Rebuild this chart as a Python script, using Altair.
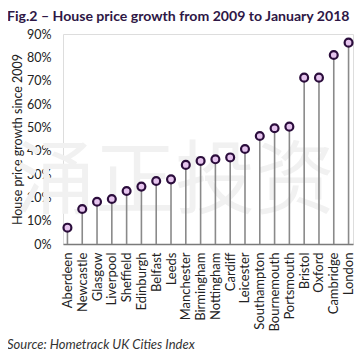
import altair as alt
import pandas as pd

cities = ["Aberdeen", "Newcastle", "Glasgow", "Liverpool", "Sheffield", "Edinburgh",
          "Belfast", "Leeds", "Manchester", "Birmingham", "Nottingham", "Cardiff",
          "Leicester", "Southampton", "Bournemouth", "Portsmouth", "Bristol", "Oxford",
          "Cambridge", "London"]
growth = [7.0, 15.0, 18.1, 19.3, 22.7, 24.6, 27.0, 27.7, 33.9, 35.6, 36.3, 37.1,
          40.7, 46.3, 49.6, 50.3, 71.3, 71.3, 81.0, 86.3]
y_ticks = [0, 10, 20, 30, 40, 50, 60, 70, 80, 90]
title_text = ["Fig.2 \u2013 House price growth from 2009 to January 2018"]
source_text = ["Source: Hometrack UK Cities Index"]
watermark_text = ["\u6d8c\u6b63\u6295\u8d44"]

df = pd.DataFrame({"city": cities, "growth": growth})

FONT = "Lato"

x_enc = alt.X("city:N", sort=None,
              scale=alt.Scale(type="point", padding=0.3),
              axis=alt.Axis(title=None, labelAngle=-90, ticks=False,
                            domain=True, domainColor="#7a7a7a", domainWidth=1.5,
                            labelPadding=8, labelFontSize=13, labelFont=FONT,
                            labelColor="#222222", labelAlign="right",
                            labelBaseline="middle"))
y_enc = alt.Y("growth:Q",
              scale=alt.Scale(domain=[0, 90], nice=False),
              axis=alt.Axis(values=y_ticks, labelExpr="datum.value + '%'",
                            grid=False, domain=False, ticks=False,
                            labelPadding=12, labelFontSize=12.5, labelFont=FONT,
                            labelColor="#222222",
                            title="House price growth since 2009",
                            titleFont=FONT, titleFontSize=12.5,
                            titleFontWeight="normal", titleColor="#222222",
                            titleAngle=270, titleX=-46, titleY=105,
                            titleAlign="center", titleBaseline="middle"))

watermark = alt.Chart(pd.DataFrame({"t": watermark_text})).mark_text(
    font="Noto Sans CJK SC", fontSize=80, color="#f1f1f1", align="center",
    baseline="middle"
).encode(x=alt.value(112), y=alt.value(149), text="t:N")

base = alt.Chart(df)
stems = base.mark_rule(color="#8a8a8a", strokeWidth=1.6).encode(
    x=x_enc, y=y_enc, y2=alt.datum(0))
points = base.mark_point(shape="circle", filled=True, fill="#e6c4ee",
                         stroke="#2b0d3c", strokeWidth=2.2, size=62,
                         opacity=1).encode(x=x_enc, y=y_enc)

title = alt.Chart(pd.DataFrame({"t": title_text})).mark_text(
    font=FONT, fontSize=14.1, fontWeight="bold", color="#2e1745",
    align="left", baseline="middle"
).encode(x=alt.value(-56), y=alt.value(-17), text="t:N")

source = alt.Chart(pd.DataFrame({"t": source_text})).mark_text(
    font=FONT, fontSize=13, fontStyle="italic", color="#333333",
    align="left", baseline="middle"
).encode(x=alt.value(-56), y=alt.value(311), text="t:N")

chart = alt.layer(watermark, stems, points, title, source).properties(
    width=290, height=210,
    padding={"left": 55, "top": 26, "right": 3, "bottom": 110},
    autosize="none",
).configure_view(stroke=None).configure(background="white")

chart.save("out.html", embed_options={"renderer": "svg", "actions": False})
